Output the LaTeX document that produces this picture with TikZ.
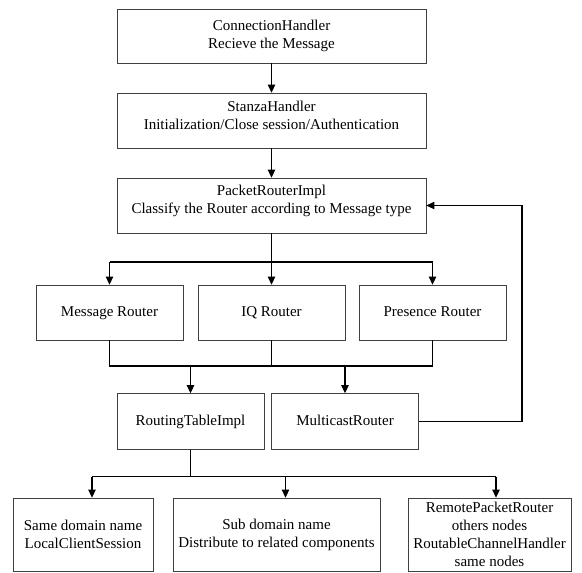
\documentclass[tikz,border=0pt]{standalone}
\usepackage{fontspec}
\setmainfont{Liberation Serif}
\usetikzlibrary{arrows.meta,calc,positioning}

\begin{document}
\begin{tikzpicture}[x=1pt,y=-1pt,
    box/.style={draw=black!75, line width=0.8pt, align=center, inner sep=0pt,
        font=\fontsize{15}{18}\selectfont},
    oneline/.style={text height=10.5pt, text depth=2pt},
    uptext/.style={label={[align=center, font=\fontsize{15}{18}\selectfont, yshift=5pt]center:{#1}}},
    link/.style={line width=1.3pt},
    arr/.style={link, -{Triangle[length=8pt,width=7.5pt]}}]
    \useasboundingbox (0,0) rectangle (582,573);

    % Handler chain
    \node[box, minimum width=309pt, minimum height=54pt] (conn) at (271.5,36) {ConnectionHandler\\Recieve the Message};
    \node[box, minimum width=309pt, minimum height=55pt,
        uptext={StanzaHandler\\Initialization/Close session/Authentication}] (stanza) at (271.5,120.5) {};
    \node[box, minimum width=309pt, minimum height=55pt,
        uptext={PacketRouterImpl\\Classify the Router according to Message type}] (packet) at (271.5,205.5) {};
    \draw[arr] (conn) -- (stanza);
    \draw[arr] (stanza) -- (packet);

    % Routers by message type
    \foreach \n/\x/\t in {msg/109.5/Message Router, iq/271.5/IQ Router, pres/432.5/Presence Router}
        \node[box, oneline, minimum width=147pt, minimum height=55pt] (\n) at (\x,312.5) {\t};
    \coordinate (split) at (271.5,262);
    \draw[link] (packet.south) -- (split);
    \draw[link] (msg.north |- split) -- (pres.north |- split);
    \foreach \n in {msg,iq,pres}
        \draw[arr] (\n.north |- split) -- (\n.north);

    % Routing table and multicast
    \node[box, oneline, minimum width=147pt, minimum height=56pt] (route) at (190.5,421.5) {RoutingTableImpl};
    \node[box, oneline, minimum width=147pt, minimum height=56pt] (mcast) at (345,421.5) {MulticastRouter};
    \coordinate (merge) at (271.5,366);
    \draw[link] (msg.south) -- (msg.south |- merge) -- (pres.south |- merge) -- (pres.south);
    \draw[link] (iq.south) -- (merge);
    \foreach \n in {route,mcast}
        \draw[arr] (\n.north |- merge) -- (\n.north);

    % Back to PacketRouterImpl
    \coordinate (back) at (522,421.5);
    \draw[arr] (mcast.east) -- (back) |- (packet.east);

    % Destinations
    \node[box, minimum width=140pt, minimum height=73pt] (same) at (83,534.5) {Same domain name\\LocalClientSession};
    \node[box, minimum width=207pt, minimum height=73pt] (sub) at (276.5,534.5) {Sub domain name\\Distribute to related components};
    \node[box, minimum width=163pt, minimum height=73pt] (remote) at (489.5,534.5) {RemotePacketRouter\\others nodes\\RoutableChannelHandler\\same nodes};
    \coordinate (fork) at (190.5,476.5);
    \draw[link] (route.south) -- (fork);
    \foreach \n/\x in {same/92, sub/285.5, remote/496}
        \coordinate (d\n) at (\x,476.5);
    \draw[link] (dsame) -- (dremote);
    \foreach \n in {same,sub,remote}
        \draw[arr] (d\n) -- (d\n |- \n.north);
\end{tikzpicture}
\end{document}
